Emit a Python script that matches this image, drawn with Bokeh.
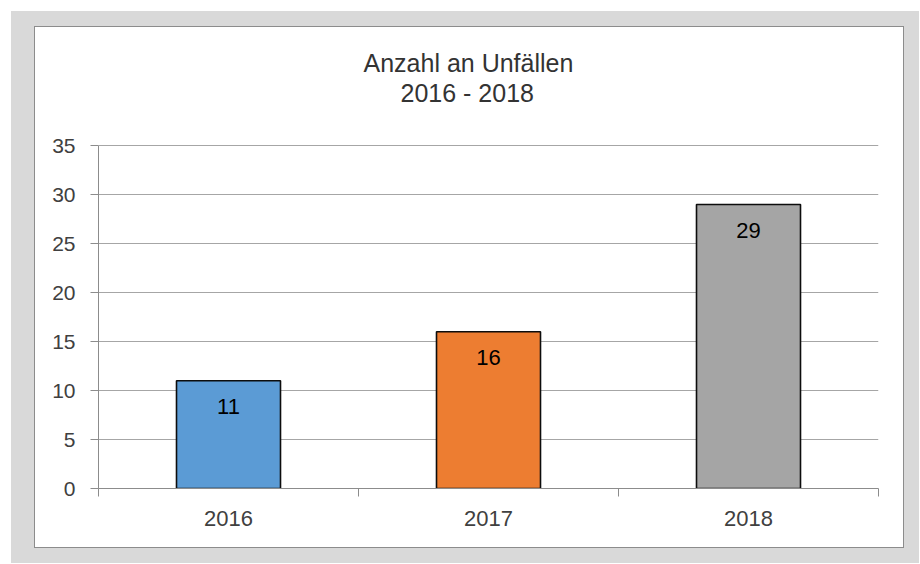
from bokeh.plotting import figure
from bokeh.models import (ColumnDataSource, Range1d, LinearAxis, FixedTicker, Title)
from bokeh.layouts import column
from bokeh.embed import file_html
from bokeh.resources import INLINE
from bokeh.core.properties import value

# ---- data ----
years = ["2016", "2017", "2018"]
accidents = [11, 16, 29]
bar_colors = ["#5b9bd5", "#ed7d31", "#a5a5a5"]
y_ticks = [0, 5, 10, 15, 20, 25, 30, 35]
title_lines = ["Anzahl an Unfällen", "2016 - 2018"]

FONT = "Liberation Sans"
AXIS_GRAY = "#8c8c8c"
GRID_GRAY = "#a6a6a6"
TEXT_GRAY = "#404040"

n = len(years)
centers = [i + 0.5 for i in range(n)]          # category slots on a 0..n axis
bounds = list(range(n + 1))                      # category separators

src = ColumnDataSource(dict(xc=centers, year=years, val=accidents, color=bar_colors,
                            label=[str(v) for v in accidents]))

# frame extends a little above the 35 line to leave room for the title;
# axis line and grid stop at 35
p = figure(width=868, height=520, output_backend="svg", toolbar_location=None,
           x_range=Range1d(0, n), y_range=Range1d(0, 39),
           x_axis_location=None, y_axis_location=None,
           min_border_left=63, min_border_right=25, min_border_top=79, min_border_bottom=59)
p.border_fill_color = "white"
p.background_fill_color = "white"
p.outline_line_color = None
p.styles = {"outline": "1px solid #8c8c8c", "background-color": "white"}

# y axis
yax = LinearAxis(ticker=FixedTicker(ticks=y_ticks), bounds=(y_ticks[0], y_ticks[-1]))
yax.axis_line_color = AXIS_GRAY
yax.major_tick_line_color = AXIS_GRAY
yax.major_tick_out = 8
yax.major_tick_in = 0
yax.minor_tick_line_color = None
yax.major_label_text_font = FONT
yax.major_label_text_font_size = "21px"
yax.major_label_text_color = TEXT_GRAY
yax.major_label_standoff = 15
p.add_layout(yax, "left")

# x axis line with separator ticks
bax = LinearAxis(ticker=FixedTicker(ticks=bounds))
bax.axis_line_color = AXIS_GRAY
bax.major_tick_line_color = AXIS_GRAY
bax.major_tick_out = 8
bax.major_tick_in = 0
bax.minor_tick_line_color = None
bax.major_label_overrides = {b: "" for b in bounds}
bax.major_label_standoff = 0
p.add_layout(bax, "below")

# category labels
xax = LinearAxis(ticker=FixedTicker(ticks=centers))
xax.axis_line_color = None
xax.major_tick_line_color = None
xax.minor_tick_line_color = None
xax.major_label_overrides = {c: y for c, y in zip(centers, years)}
xax.major_label_text_font = FONT
xax.major_label_text_font_size = "22px"
xax.major_label_text_color = TEXT_GRAY
xax.major_label_standoff = 8
p.add_layout(xax, "below")

p.ygrid.ticker = FixedTicker(ticks=y_ticks)
p.ygrid.grid_line_color = GRID_GRAY
p.xgrid.grid_line_color = None

p.vbar(x="xc", top="val", width=0.4, bottom=0, source=src,
       fill_color="color", line_color="#0d0d0d", line_width=1.6)

p.text(x="xc", y="val", text="label", source=src, y_offset=26,
       text_align="center", text_baseline="middle",
       text_font=value(FONT), text_font_size="22px", text_color="#000000")

# two-line title, positioned over the centre of the whole chart box
p.add_layout(Title(text=title_lines[1], align="left", offset=302, standoff=0,
                   text_font=FONT, text_font_size="25px", text_font_style="normal",
                   text_color="#333333"), "above")
p.add_layout(Title(text=title_lines[0], align="left", offset=265, standoff=0,
                   text_font=FONT, text_font_size="25px", text_font_style="normal",
                   text_color="#333333"), "above")

layout = column(p, styles={"background-color": "#d9d9d9",
                           "margin-left": "11px", "margin-top": "11px",
                           "padding": "16px 16px 16px 24px"})

open("out.html", "w").write(file_html(layout, INLINE))
